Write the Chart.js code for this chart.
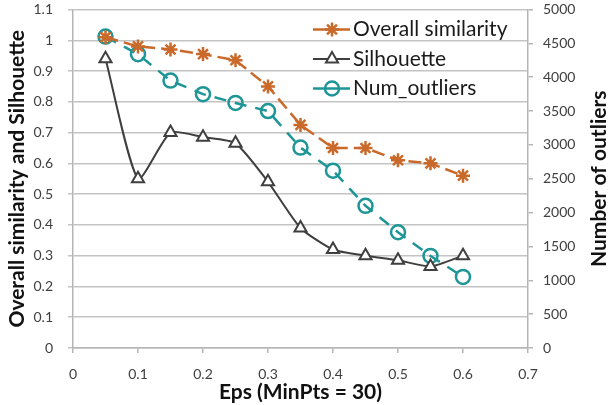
<!DOCTYPE html>
<html lang="en">
<head>
<meta charset="UTF-8">
<title>Eps vs similarity</title>
<script src="https://cdn.jsdelivr.net/npm/chart.js@4.4.0/dist/chart.umd.min.js"></script>
<style>
  html, body { margin: 0; padding: 0; background: #fff; }
  #wrap { width: 612px; height: 405px; }
</style>
</head>
<body>
<div id="wrap"><canvas id="grafico" width="612" height="405"></canvas></div>
<script>
// valores
const eps = [0.05, 0.1, 0.15, 0.2, 0.25, 0.3, 0.35, 0.4, 0.45, 0.5, 0.55, 0.6];
const overallSimilarity = [1.01, 0.98, 0.97, 0.955, 0.935, 0.85, 0.725, 0.65, 0.65, 0.61, 0.60, 0.56];
const silhouette = [0.94, 0.55, 0.70, 0.685, 0.665, 0.54, 0.39, 0.32, 0.30, 0.285, 0.265, 0.30];
const numOutliers = [4600, 4340, 3950, 3750, 3620, 3500, 2960, 2620, 2100, 1710, 1360, 1050];
const labels = ["Overall similarity", "Silhouette", "Num_outliers"];
const rightTitle = "Number of outliers";

const ORANGE = "#c9692a";
const GRAY = "#3f3f3f";
const TEAL = "#1e9597";
const FONT = "Lato";

function pontos(ys) {
    return eps.map(function(x, i) { return {x: x, y: ys[i]}; });
}

function semPadding(s) {
    s.paddingTop = 0; s.paddingBottom = 0;
    s.paddingLeft = 0; s.paddingRight = 0;
}

// legenda desenhada a mao: linha + marcador como no Excel
const legendaExcel = {
    id: "legendaExcel",
    afterDraw: function(chart) {
        const ctx = chart.ctx;
        const area = chart.chartArea;
        const x0 = area.right - 215;
        let y = area.top + 20;
        chart.data.datasets.forEach(function(ds) {
            ctx.save();
            ctx.strokeStyle = ds.borderColor;
            ctx.lineWidth = ds.borderWidth;
            ctx.setLineDash([]);
            ctx.beginPath();
            ctx.moveTo(x0, y);
            ctx.lineTo(x0 + 37, y);
            ctx.stroke();
            ctx.fillStyle = ds.pointBackgroundColor;
            ctx.strokeStyle = ds.borderColor;
            ctx.lineWidth = ds.pointBorderWidth;
            Chart.helpers.drawPoint(ctx, {pointStyle: ds.pointStyle, radius: ds.pointRadius, rotation: 0, borderWidth: ds.pointBorderWidth}, x0 + 19, y);
            ctx.fillStyle = "#1a1a1a";
            ctx.font = "21px " + FONT;
            ctx.textBaseline = "middle";
            ctx.fillText(ds.label, x0 + 40, y);
            ctx.restore();
            y += 29.5;
        });

        // titulo do eixo direito, lido de baixo para cima
        const s = chart.scales.y1;
        ctx.save();
        ctx.translate(599, (s.top + s.bottom) / 2);
        ctx.rotate(-Math.PI / 2);
        ctx.fillStyle = "#111";
        ctx.font = "bold 21px " + FONT;
        ctx.textAlign = "center";
        ctx.textBaseline = "middle";
        ctx.fillText(rightTitle, 0, 0);
        ctx.restore();
    }
};

new Chart(document.getElementById("grafico"), {
    type: "line",
    data: {
        datasets: [
            {
                label: labels[0],
                data: pontos(overallSimilarity),
                yAxisID: "y",
                borderColor: ORANGE,
                borderWidth: 2.5,
                borderDash: [13, 6],
                pointStyle: "star",
                pointRadius: 7,
                pointBorderWidth: 2.5,
                pointBackgroundColor: ORANGE,
                pointBorderColor: ORANGE,
                tension: 0
            },
            {
                label: labels[1],
                data: pontos(silhouette),
                yAxisID: "y",
                borderColor: GRAY,
                borderWidth: 2,
                pointStyle: "triangle",
                pointRadius: 7,
                pointBorderWidth: 2,
                pointBackgroundColor: "#ffffff",
                pointBorderColor: GRAY,
                tension: 0.2
            },
            {
                label: labels[2],
                data: pontos(numOutliers),
                yAxisID: "y1",
                borderColor: TEAL,
                borderWidth: 2.5,
                borderDash: [12, 9],
                pointStyle: "circle",
                pointRadius: 7,
                pointBorderWidth: 2.5,
                pointBackgroundColor: "rgba(255,255,255,0)",
                pointBorderColor: TEAL,
                tension: 0
            }
        ]
    },
    options: {
        responsive: false,
        animation: false,
        layout: { padding: { top: 7, right: 0, left: 0, bottom: 0 } },
        plugins: {
            legend: { display: false },
            tooltip: { enabled: false }
        },
        scales: {
            x: {
                type: "linear",
                min: 0,
                max: 0.7,
                afterFit: function(s) { s.height = 57; semPadding(s); },
                ticks: {
                    stepSize: 0.1,
                    padding: 13,
                    color: "#404040",
                    font: { family: FONT, size: 14 },
                    callback: function(v) { return Math.round(v * 10) / 10; }
                },
                grid: { drawOnChartArea: false, tickLength: 5, color: "#b5b5b5", lineWidth: 1.5 },
                border: { color: "#b5b5b5", width: 1.5 },
                title: {
                    display: true,
                    text: "Eps (MinPts = 30)",
                    color: "#111",
                    padding: { top: 0, bottom: 0 },
                    font: { family: FONT, size: 21, weight: "bold" }
                }
            },
            y: {
                position: "left",
                min: 0,
                max: 1.1,
                afterFit: function(s) { s.width = 73; semPadding(s); },
                ticks: {
                    stepSize: 0.1,
                    padding: 15,
                    color: "#404040",
                    font: { family: FONT, size: 14 },
                    callback: function(v) { return Math.round(v * 10) / 10; }
                },
                grid: { color: "#c4c4c4", lineWidth: 1.5, tickLength: 5 },
                border: { color: "#b5b5b5", width: 1.5 },
                title: {
                    display: true,
                    text: "Overall similarity and Silhouette",
                    color: "#111",
                    padding: { top: 5, bottom: 0 },
                    font: { family: FONT, size: 21, weight: "bold" }
                }
            },
            y1: {
                position: "right",
                min: 0,
                max: 5000,
                afterFit: function(s) { s.width = 84; semPadding(s); },
                ticks: {
                    stepSize: 500,
                    padding: 10,
                    color: "#404040",
                    font: { family: FONT, size: 14 },
                    callback: function(v) { return String(v); }
                },
                grid: { drawOnChartArea: false, tickLength: 5, color: "#b5b5b5", lineWidth: 1.5 },
                border: { color: "#b5b5b5", width: 1.5 }
            }
        }
    },
    plugins: [legendaExcel]
});
</script>
</body>
</html>
